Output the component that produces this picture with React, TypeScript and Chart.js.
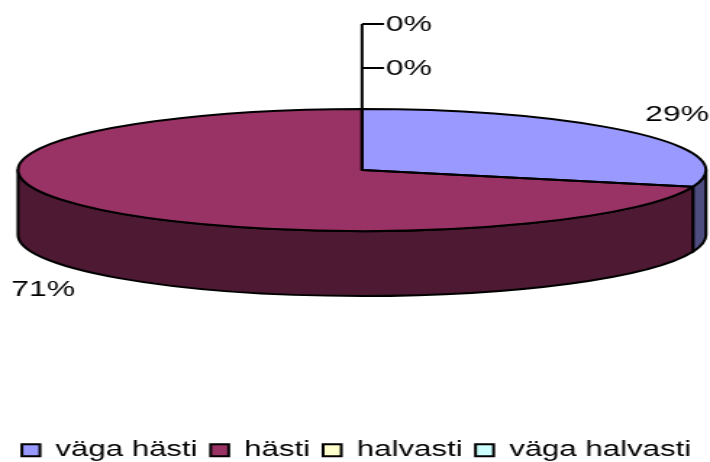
import React, { useEffect, useRef } from "react";
import { Chart, registerables } from "chart.js";

Chart.register(...registerables);

const categories = ["väga hästi", "hästi", "halvasti", "väga halvasti"];
const seriesValues = [5, 12, 0, 0];
const topColors = ["#9999FF", "#993366", "#FFFFCC", "#CCFFFF"];
const wallColors = ["#4D4D80", "#4D1933", "#808066", "#668080"];
// label anchor positions in page pixels (text centre), per slice
const labelAnchorsX = [677, 43, 409, 409];
const labelAnchorsY = [114, 289, 68, 24];

const PAGE_W = 710;
const PAGE_H = 462;
const CANVAS_W = 490;
const STRETCH = PAGE_W / CANVAS_W;
const CENTER_X = 362 / STRETCH;
const CENTER_Y = 170;
const RADIUS = 344 / STRETCH;
const TILT = 61 / RADIUS;
const DEPTH = 65;
const FONT = '22px "Liberation Sans"';

const pie3d = {
  id: "pie3d",
  beforeDatasetDraw(chart: any) {
    const ctx = chart.ctx;
    const arcs = chart.getDatasetMeta(0).data;
    ctx.save();
    ctx.lineWidth = 2;
    ctx.strokeStyle = "#000";
    ctx.lineJoin = "round";
    arcs.forEach((arc: any, i: number) => {
      const a0 = Math.max(arc.startAngle, 0);
      const a1 = Math.min(arc.endAngle, Math.PI);
      if (a1 <= a0) return;
      const r = arc.outerRadius;
      ctx.beginPath();
      ctx.ellipse(CENTER_X, CENTER_Y, r, r * TILT, 0, a0, a1);
      ctx.ellipse(CENTER_X, CENTER_Y + DEPTH, r, r * TILT, 0, a1, a0, true);
      ctx.closePath();
      ctx.fillStyle = wallColors[i];
      ctx.fill();
      ctx.stroke();
    });
    ctx.restore();
    ctx.save();
    const first = arcs[0];
    ctx.translate(CENTER_X, CENTER_Y);
    ctx.scale(1, TILT);
    ctx.translate(-first.x, -first.y);
  },
  afterDatasetDraw(chart: any) {
    const ctx = chart.ctx;
    const arcs = chart.getDatasetMeta(0).data;
    ctx.restore();
    ctx.save();
    ctx.lineWidth = 2;
    ctx.strokeStyle = "#000";
    ctx.lineJoin = "round";
    arcs.forEach((arc: any) => {
      if (arc.endAngle - arc.startAngle <= 0) return;
      ctx.beginPath();
      ctx.moveTo(CENTER_X, CENTER_Y);
      ctx.ellipse(CENTER_X, CENTER_Y, arc.outerRadius, arc.outerRadius * TILT, 0, arc.startAngle, arc.endAngle);
      ctx.closePath();
      ctx.stroke();
    });
    // leader lines for the empty slices
    const top = CENTER_Y - RADIUS * TILT;
    const tipX = 384 / STRETCH;
    const highestY = Math.min(
      ...seriesValues.map((v, i) => (v === 0 ? labelAnchorsY[i] : Infinity))
    );
    ctx.beginPath();
    ctx.moveTo(CENTER_X, top);
    ctx.lineTo(CENTER_X, highestY);
    seriesValues.forEach((v, i) => {
      if (v !== 0) return;
      ctx.moveTo(CENTER_X, labelAnchorsY[i]);
      ctx.lineTo(tipX, labelAnchorsY[i]);
    });
    ctx.stroke();
    // percentage labels
    const total = seriesValues.reduce((s, v) => s + v, 0);
    ctx.fillStyle = "#000";
    ctx.font = FONT;
    ctx.textAlign = "center";
    ctx.textBaseline = "middle";
    seriesValues.forEach((v, i) => {
      ctx.fillText(
        `${Math.round((v / total) * 100)}%`,
        labelAnchorsX[i] / STRETCH,
        labelAnchorsY[i] + 1
      );
    });
    ctx.restore();
  },
};

export default function App() {
  const ref = useRef<HTMLCanvasElement>(null);
  useEffect(() => {
    const chart = new Chart(ref.current as HTMLCanvasElement, {
      type: "pie",
      plugins: [pie3d],
      data: {
        labels: categories,
        datasets: [
          {
            data: seriesValues,
            backgroundColor: topColors,
            borderWidth: 0,
            radius: RADIUS,
            clip: false,
          } as any,
        ],
      },
      options: {
        animation: false,
        responsive: false,
        devicePixelRatio: 1,
        layout: { padding: { bottom: -9, left: 2 } },
        plugins: {
          tooltip: { enabled: false },
          legend: {
            display: true,
            position: "bottom",
            labels: {
              boxWidth: 12.5,
              boxHeight: 12,
              padding: 9,
              color: "#000",
              font: { family: '"Liberation Sans"', size: 21.5 },
              generateLabels: () =>
                categories.map((text, i) => ({
                  text,
                  fillStyle: topColors[i],
                  strokeStyle: "#000",
                  lineWidth: 2,
                  index: i,
                  hidden: false,
                })),
            },
          },
        },
      },
    } as any);
    return () => chart.destroy();
  }, []);
  return (
    <div style={{ position: "absolute", left: 0, top: 0, width: PAGE_W, height: PAGE_H, overflow: "hidden", background: "#fff" }}>
      <canvas
        ref={ref}
        width={CANVAS_W}
        height={PAGE_H}
        style={{ display: "block", transformOrigin: "0 0", transform: `scaleX(${STRETCH})` }}
      />
    </div>
  );
}
